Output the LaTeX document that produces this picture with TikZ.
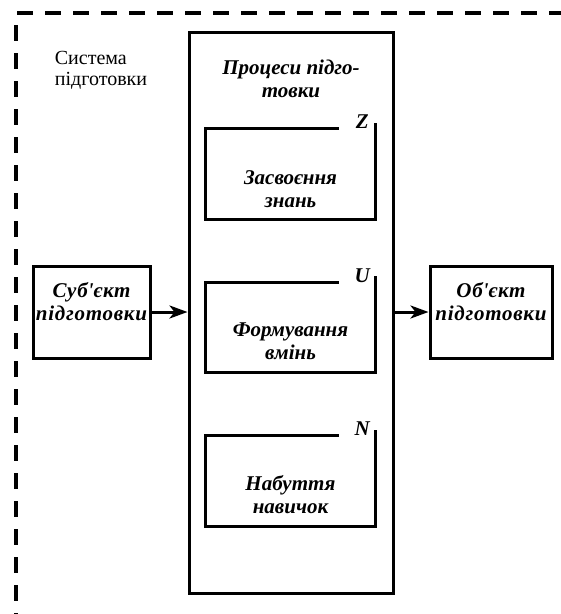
\documentclass[tikz,border=0pt]{standalone}
\usepackage{fontspec}
\setmainfont{Liberation Serif}
\usetikzlibrary{arrows.meta}
\begin{document}
\begin{tikzpicture}[x=1pt,y=-1pt,
  frame/.style={draw,line width=3pt,inner sep=0pt},
  caption/.style={align=center,inner sep=0pt,font=\fontsize{21}{23}\selectfont\bfseries\itshape},
  wide/.style={font=\fontsize{21}{23}\selectfont\bfseries\itshape\addfontfeature{LetterSpace=3.5}},
  tag/.style={inner sep=0pt,font=\fontsize{21}{23}\selectfont\bfseries\itshape},
  arr/.style={-{Stealth[length=18pt,width=13pt,inset=5pt]},line width=3pt},
  border/.style={line width=4pt,dash pattern=on 16pt off 12pt}]

\useasboundingbox (0,0) rectangle (561,614);

% System border
\draw[border] (17,13) -- (561,13);
\draw[border] (16,25) -- (16,614);

% System caption
\node[align=left,inner sep=0pt,font=\fontsize{20}{21}\selectfont] (sys) at (101,70)
    {Система\\підготовки};

% Processes
\node[frame,minimum width=204,minimum height=561] (proc) at (291,312.5) {};
\node[caption] (proc-txt) at (291,79) {Процеси підго-\\товки};

% Inner processes
\node[minimum width=169,minimum height=90] (know) at (290.5,174) {};
\node[minimum width=169,minimum height=90] (skill) at (290.5,327.5) {};
\node[minimum width=169,minimum height=90] (habit) at (290.5,481) {};

\foreach \b/\t in {know/Z,skill/U,habit/N}{
  \draw[frame] ([xshift=133]\b.north west) -- (\b.north west) -- (\b.south west)
      -- (\b.south east) -- ([yshift=6]\b.north east);
  \node[tag,anchor=base] (\b-tag) at ([xshift=-13]\b.north east) {\t};
}

\node[caption] (know-txt) at ([yshift=-15]know.center) {Засвоєння\\знань};
\node[caption] (skill-txt) at ([yshift=-14]skill.center) {Формування\\вмінь};
\node[caption] (habit-txt) at ([yshift=-14]habit.center) {Набуття\\навичок};

% Subject and object
\node[frame,minimum width=117,minimum height=92] (subj) at (91.5,312) {};
\node[caption,wide] (subj-txt) at ([yshift=10]subj.center) {Суб\textquotesingle єкт\\підготовки};
\node[frame,minimum width=122,minimum height=92] (obj) at (491,312) {};
\node[caption,wide] (obj-txt) at ([yshift=10]obj.center) {Об\textquotesingle єкт\\підготовки};

% Arrows
\draw[arr] (subj.east) -- (proc.west |- subj.east);
\draw[arr] (proc.east |- obj.west) -- (obj.west);

\end{tikzpicture}
\end{document}
